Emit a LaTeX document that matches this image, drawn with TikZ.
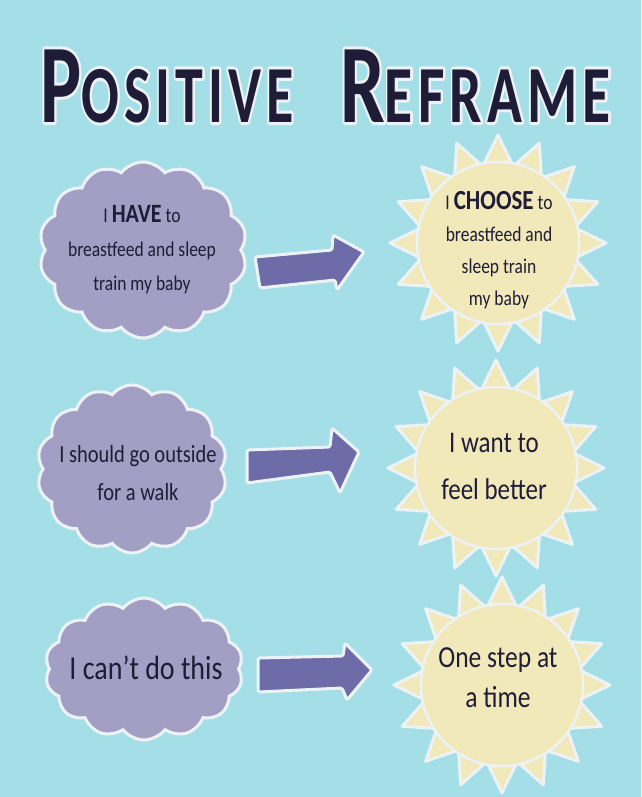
\documentclass[tikz,border=0pt]{standalone}
\usepackage{fontspec}
\setmainfont{Carlito}
\newfontfamily\titlefont[LetterSpace=9]{Carlito}
\usetikzlibrary{shapes.symbols,shapes.geometric,calc}
\definecolor{bg}{HTML}{A4DFE8}
\definecolor{cloudc}{HTML}{A39EC4}
\definecolor{arrowc}{HTML}{6E6CA8}
\definecolor{sunc}{HTML}{F2E9BA}
\definecolor{edgec}{HTML}{EDF2F6}
\definecolor{ink}{HTML}{1F1C38}
\newcommand\hw[1]{\scalebox{1}[1.2]{#1}}
\newcommand\wordA{\scalebox{0.69}[1]{\titlefont\bfseries\fontsize{112}{112}\selectfont P\fontsize{81}{81}\selectfont OSITIVE}}
\newcommand\wordB{\scalebox{0.71}[1]{\titlefont\bfseries\fontsize{112}{112}\selectfont R\fontsize{81}{81}\selectfont EFRAME}}
\newcommand\outl[1]{\special{pdf:literal direct 2 Tr 6 w 1 j}#1\special{pdf:literal direct 0 Tr}}
\begin{document}
\begin{tikzpicture}[x=1pt,y=-1pt,
 thought/.style={cloud, cloud puffs=14, cloud puff arc=105, cloud ignores aspect, fill=cloudc, draw=edgec, line width=3pt, inner sep=0pt},
 rays/.style={star, star points=16, star point ratio=1.38, fill=sunc, draw=edgec, line width=3pt, line join=round, inner sep=0pt, minimum size=216pt},
 disc/.style={circle, fill=sunc, draw=edgec, line width=2.5pt, inner sep=0pt, minimum size=162pt},
 msg/.style={text=ink, align=center, inner sep=0pt},
 blockarrow/.style={fill=arrowc, draw=edgec, line width=3pt, line join=round, rounded corners=1.5pt},
 titletext/.style={anchor=base west, inner sep=0pt}
]
\fill[bg] (0,0) rectangle (641,797);
\useasboundingbox (0,0) rectangle (641,797);

% title: white outline, then ink
\node[titletext, text=edgec] (glowA) at (40,122) {\outl{\wordA}};
\node[titletext, text=edgec] (glowB) at (340,122) {\outl{\wordB}};
\node[titletext, text=ink] (titleA) at (40,122) {\wordA};
\node[titletext, text=ink] (titleB) at (340,122) {\wordB};

% clouds
\node[thought, minimum width=208pt, minimum height=176pt] (c1) at (143,250) {};
\node[thought, minimum width=190pt, minimum height=168pt] (c2) at (132,469) {};
\node[thought, minimum width=198pt, minimum height=142pt] (c3) at (144,669) {};

\node[msg, font=\fontsize{17.5}{34}\selectfont] (t1) at (142,250)
  {\hw{I {\fontsize{22}{22}\selectfont\bfseries HAVE} to}\\ \hw{breastfeed and sleep}\\ \hw{train my baby}};
\node[msg, font=\fontsize{20.5}{38}\selectfont] (t2) at (138,473)
  {\hw{I should go outside}\\ \hw{for a walk}};
\node[msg, font=\fontsize{28}{34}\selectfont] (t3) at (146,668)
  {\hw{I can't do this}};

% arrows
\filldraw[blockarrow] (255,257) -- (332,250) -- (333,235) -- (364,252) -- (337,290) -- (335,280) -- (260,288) -- cycle;
\filldraw[blockarrow] (247,450) -- (330,447) -- (332,428) -- (359,452) -- (340,493) -- (330,472) -- (247,483) -- cycle;
\filldraw[blockarrow] (258,658) -- (343,656) -- (345,643) -- (372,670) -- (347,700) -- (342,688) -- (258,692) -- cycle;

% suns
\node[rays] (r1) at (498,243) {};
\node[disc] (sun1) at (498,243) {};
\node[rays] (r2) at (496,468) {};
\node[disc] (sun2) at (496,468) {};
\node[rays] (r3) at (502,685) {};
\node[disc] (sun3) at (502,685) {};

\node[msg, font=\fontsize{17.5}{32}\selectfont] (s1) at (499,250)
  {\hw{I {\fontsize{23}{23}\selectfont\bfseries CHOOSE} to}\\ \hw{breastfeed and}\\ \hw{sleep train}\\ \hw{my baby}};
\node[msg, font=\fontsize{25}{47}\selectfont] (s2) at (494,466)
  {\hw{I want to}\\ \hw{feel better}};
\node[msg, font=\fontsize{25.5}{40}\selectfont] (s3) at (498,678)
  {\hw{One step at}\\ \hw{a time}};
\end{tikzpicture}
\end{document}
